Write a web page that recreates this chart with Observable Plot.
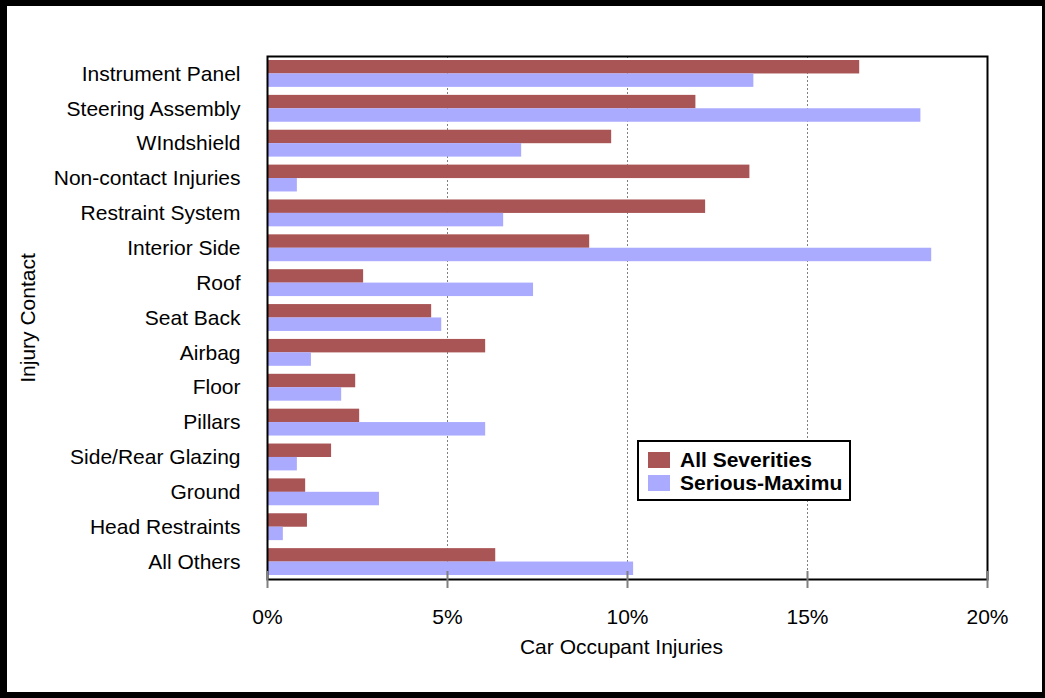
<!DOCTYPE html>
<html>
<head>
<meta charset="utf-8">
<script src="https://cdn.jsdelivr.net/npm/d3@7"></script>
<script src="https://cdn.jsdelivr.net/npm/@observablehq/plot@0.6"></script>
<style>
  html, body { margin: 0; padding: 0; background: #fff; }
  #wrap { position: relative; width: 1045px; height: 698px; overflow: hidden; font-family: "Liberation Sans", Arial, sans-serif; }
  #chart { position: absolute; left: 0; top: 0; }
  #border { position: absolute; left: 0; top: 0; width: 1045px; height: 698px; box-sizing: border-box;
            border-style: solid; border-color: #000; border-width: 6px 3px 6px 7px; pointer-events: none; }
  #legend { position: absolute; left: 637px; top: 440px; width: 214px; height: 61px; box-sizing: border-box;
            border: 2px solid #000; background: #fff; padding: 6px 0 0 9px; }
  .item { display: flex; align-items: center; height: 23px; font-weight: bold; font-size: 21px; color: #000; }
  .swatch { width: 22px; height: 16px; margin-right: 10px; }
</style>
</head>
<body>
<div id="wrap">
  <div id="chart"></div>
  <div id="legend"></div>
  <div id="border"></div>
</div>
<script>
// Contact points, top to bottom
const categories = [
  "Instrument Panel", "Steering Assembly", "WIndshield", "Non-contact Injuries",
  "Restraint System", "Interior Side", "Roof", "Seat Back", "Airbag", "Floor",
  "Pillars", "Side/Rear Glazing", "Ground", "Head Restraints", "All Others"
];
// Share of car occupant injuries, percent
const allSeverities = [16.45, 11.90, 9.56, 13.40, 12.17, 8.95, 2.67, 4.56, 6.06, 2.45, 2.56, 1.78, 1.06, 1.11, 6.34];
const seriousMaximum = [13.51, 18.15, 7.06, 0.83, 6.56, 18.45, 7.39, 4.84, 1.22, 2.06, 6.06, 0.83, 3.11, 0.44, 10.17];
const seriesNames = ["All Severities", "Serious-Maximu"];
const seriesColors = ["#AA5555", "#AAAAFF"];
const xTicks = [0, 5, 10, 15, 20];
const xTitle = "Car Occupant Injuries";
const yTitle = "Injury Contact";

const rows = categories.flatMap((category, i) => [
  {category, series: seriesNames[0], value: allSeverities[i]},
  {category, series: seriesNames[1], value: seriousMaximum[i]}
]);

const chart = Plot.plot({
  width: 1045,
  height: 698,
  marginLeft: 267,
  marginRight: 58,
  marginTop: 56,
  marginBottom: 119,
  style: {fontFamily: "'Liberation Sans', Arial, sans-serif", fontSize: "21px", color: "#000", background: "#fff"},
  x: {domain: [0, 20]},
  y: {domain: categories, padding: 0, round: false},
  color: {domain: seriesNames, range: seriesColors},
  marks: [
    Plot.gridX(xTicks.slice(1, -1), {stroke: "#808080", strokeOpacity: 1, strokeDasharray: "2,2"}),
    Plot.barX(rows.filter(d => d.series === seriesNames[0]), {x: "value", y: "category", fill: "series", insetTop: 4, insetBottom: 17.4}),
    Plot.barX(rows.filter(d => d.series === seriesNames[1]), {x: "value", y: "category", fill: "series", insetTop: 17.4, insetBottom: 4}),
    Plot.frame({stroke: "#000", strokeWidth: 2}),
    // tick marks straddle the bottom edge
    Plot.axisX({ticks: xTicks, tickSize: 17, dy: -8, tickFormat: () => "", label: null, stroke: "#808080", strokeWidth: 2}),
    Plot.axisX({ticks: xTicks, tickSize: 0, tickPadding: 30, tickFormat: d => `${d}%`, fill: "#000", label: null}),
    Plot.text([xTitle], {text: d => d, frameAnchor: "bottom", dy: 74, dx: -6, fill: "#000"}),
    Plot.axisY({tickSize: 0, tickPadding: 27, fill: "#000", label: yTitle, labelAnchor: "center", labelArrow: "none", labelOffset: 247})
  ]
});
document.getElementById("chart").append(chart);

const legend = document.getElementById("legend");
seriesNames.forEach((name, i) => {
  const item = document.createElement("div");
  item.className = "item";
  const sw = document.createElement("span");
  sw.className = "swatch";
  sw.style.background = seriesColors[i];
  const label = document.createElement("span");
  label.textContent = name;
  item.append(sw, label);
  legend.append(item);
});
</script>
</body>
</html>
